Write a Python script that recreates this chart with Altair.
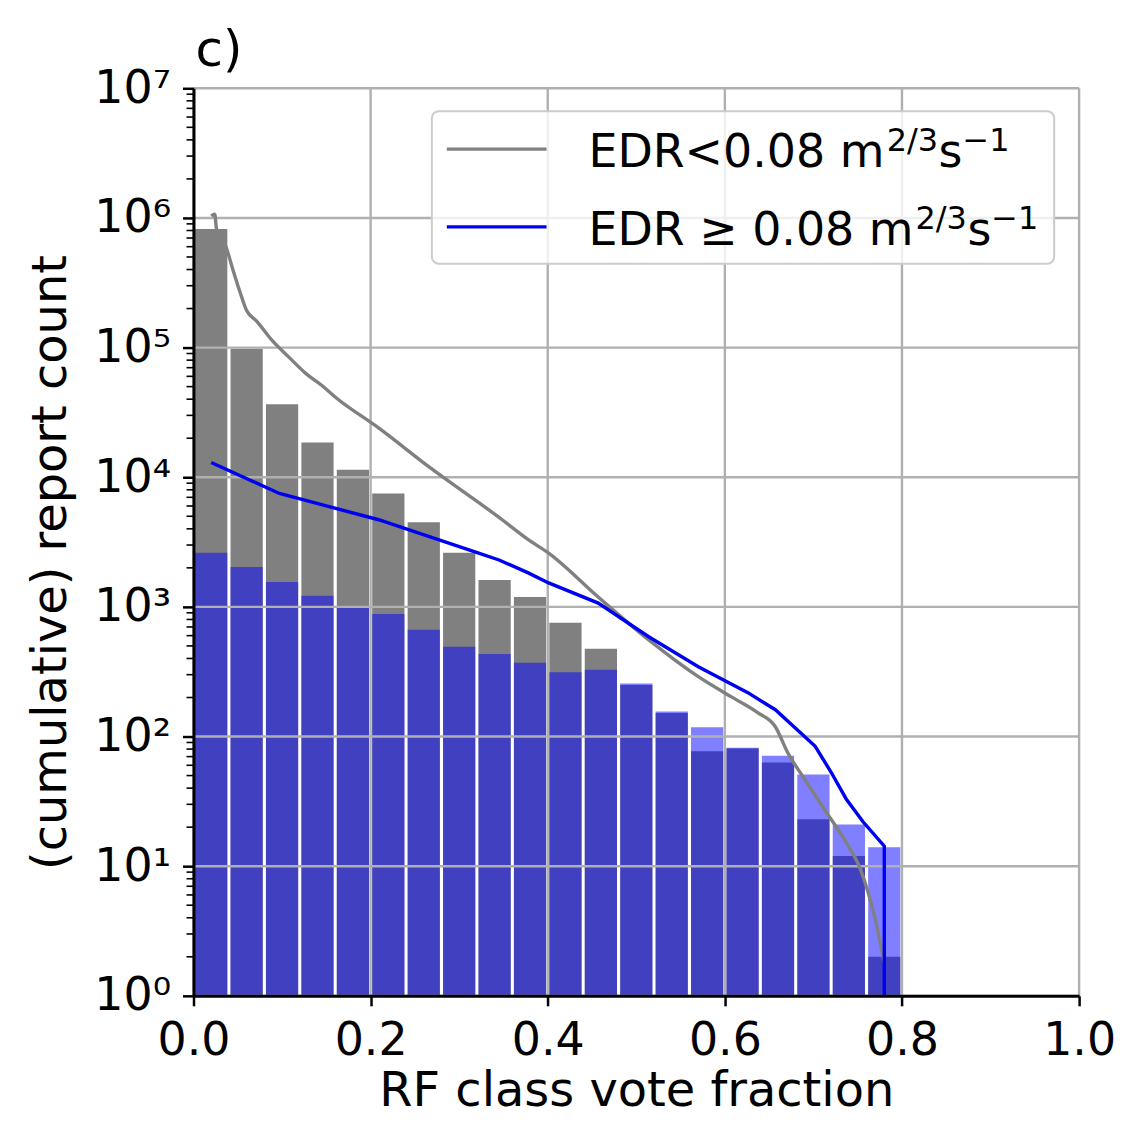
import altair as alt
import pandas as pd

# ---------------- data ----------------
bin_left = [0.00, 0.04, 0.08, 0.12, 0.16, 0.20, 0.24, 0.28, 0.32, 0.36,
            0.40, 0.44, 0.48, 0.52, 0.56, 0.60, 0.64, 0.68, 0.72, 0.76]
bin_right = [0.04, 0.08, 0.12, 0.16, 0.20, 0.24, 0.28, 0.32, 0.36, 0.40,
             0.44, 0.48, 0.52, 0.56, 0.60, 0.64, 0.68, 0.72, 0.76, 0.80]
gray_counts = [820000, 98000, 36500, 18500, 11400, 7500, 4500, 2620, 1610, 1190,
               755, 475, 250, 152, 77, 81, 63, 23, 12, 2]
blue_counts = [2620, 2030, 1555, 1220, 1000, 880, 665, 493, 433, 370,
               313, 327, 256, 156, 118, 82, 71, 51, 21, 14]

gray_line_x = [0.020, 0.024, 0.026, 0.037, 0.044, 0.052, 0.060, 0.071, 0.089, 0.108,
               0.127, 0.145, 0.161, 0.209, 0.266, 0.345, 0.378, 0.401, 0.457, 0.514,
               0.570, 0.607, 0.637, 0.657, 0.671, 0.690, 0.713, 0.735, 0.753, 0.769, 0.780]
gray_line_y = [1.035e6, 1.07e6, 8.2e5, 5.9e5, 4.1e5, 2.75e5, 1.93e5, 1.61e5, 1.13e5, 8.4e4,
               6.3e4, 5.1e4, 4.1e4, 2.4e4, 1.2e4, 4.9e3, 3.3e3, 2.6e3, 1190, 557,
               290, 203, 153, 119, 75, 47, 27, 16, 9.5, 4.1, 1.8]
blue_line_x = [0.020, 0.097, 0.209, 0.322, 0.345, 0.378, 0.401, 0.457, 0.514, 0.570,
               0.626, 0.657, 0.702, 0.720, 0.737, 0.756, 0.780, 0.780]
blue_line_y = [1.30e4, 7.5e3, 4.7e3, 2.6e3, 2.3e3, 1.83e3, 1.53e3, 1.07e3, 588, 345,
               218, 161, 84, 53, 33, 22, 14.3, 0.5]

x_ticks = [0.0, 0.2, 0.4, 0.6, 0.8, 1.0]
y_ticks = [1, 10, 100, 1000, 10000, 100000, 1000000, 10000000]
y_minor = [m * 10 ** k for k in range(7) for m in range(2, 10)]

x_title = "RF class vote fraction"
y_title = "(cumulative) report count"
legend_lo = ["EDR<0.08 m", "2/3", "s", "\u22121"]
legend_hi = ["EDR \u2265 0.08 m", "2/3", "s", "\u22121"]
panel_label = "c)"

# ---------------- layout ----------------
W, H = 888, 910
FONT = "DejaVu Sans"
FS = 46
TFS = 48
SUP = 32

bars = pd.DataFrame({"left": bin_left, "right": bin_right,
                     "gray": gray_counts, "blue": blue_counts})
gline = pd.DataFrame({"x": gray_line_x, "y": gray_line_y, "i": range(len(gray_line_x))})
bline = pd.DataFrame({"x": blue_line_x, "y": blue_line_y, "i": range(len(blue_line_x))})
one = pd.DataFrame({"k": [0]})

xscale = alt.Scale(domain=[0, 1], nice=False, zero=False)
yscale = alt.Scale(type="log", domain=[1, 1e7], nice=False)

sup = "['\u2070','\u00b9','\u00b2','\u00b3','\u2074','\u2075','\u2076','\u2077']"
xaxis = alt.Axis(values=x_ticks, format=".1f", grid=False, domainColor="black",
                 domainWidth=3, tickColor="black", tickWidth=2.5, tickSize=10,
                 labelFontSize=FS, labelFont=FONT, labelColor="black", labelPadding=13,
                 labelFlush=False, labelOverlap=False,
                 titleFontSize=TFS, titleFont=FONT, titleFontWeight="normal",
                 titleColor="black", titleX=W / 2, titleY=110,
                 titleBaseline="alphabetic", titleAlign="center", zindex=1)
yaxis = alt.Axis(values=y_ticks, labelExpr="'10' + " + sup + "[round(log(datum.value)/LN10)]",
                 grid=False, domainColor="black", domainWidth=3, tickColor="black",
                 tickWidth=2.5, tickSize=11, labelFontSize=FS, labelFont=FONT,
                 labelColor="black", labelPadding=12, labelFlush=False, labelOverlap=False,
                 titleFontSize=TFS, titleFont=FONT, titleFontWeight="normal",
                 titleColor="black", titleX=-128, titleY=H / 2 + 20, titleAngle=270,
                 titleBaseline="alphabetic", titleAlign="center", zindex=1)


def X(field):
    return alt.X(field, type="quantitative", scale=xscale, axis=xaxis, title=x_title)


def Y(field):
    return alt.Y(field, type="quantitative", scale=yscale, axis=yaxis, title=y_title)


gray_bars = alt.Chart(bars).mark_bar(color="#808080", xOffset=1.6, x2Offset=-1.6).encode(
    x=X("left"), x2="right", y=Y("gray"), y2=alt.datum(1))
blue_bars = alt.Chart(bars).mark_bar(color="#0000ff", opacity=0.5, xOffset=1.6, x2Offset=-1.6).encode(
    x=X("left"), x2="right", y=Y("blue"), y2=alt.datum(1))

xgrid = alt.Chart(pd.DataFrame({"v": x_ticks})).mark_rule(color="#b0b0b0", strokeWidth=2.4).encode(
    x=X("v"), y=alt.value(0), y2=alt.value(H))
ygrid = alt.Chart(pd.DataFrame({"v": y_ticks})).mark_rule(color="#b0b0b0", strokeWidth=2.4).encode(
    y=Y("v"), x=alt.value(0), x2=alt.value(W))
minor = alt.Chart(pd.DataFrame({"v": y_minor})).mark_rule(color="black", strokeWidth=1.6).encode(
    y=Y("v"), x=alt.value(-7), x2=alt.value(0))

gray_ln = alt.Chart(gline).mark_line(color="#808080", strokeWidth=3.4, clip=True,
                                     interpolate="monotone").encode(
    x=X("x"), y=Y("y"), order="i:Q")
blue_ln = alt.Chart(bline).mark_line(color="#0000f0", strokeWidth=3.4, clip=True).encode(
    x=X("x"), y=Y("y"), order="i:Q")

# legend
leg_box = alt.Chart(one).mark_rect(fill="white", fillOpacity=0.8, stroke="#cccccc",
                                   strokeWidth=2, cornerRadius=7).encode(
    x=alt.value(239), x2=alt.value(863), y=alt.value(23), y2=alt.value(176))
leg_l1 = alt.Chart(one).mark_rule(color="#808080", strokeWidth=3.4).encode(
    x=alt.value(254), x2=alt.value(354), y=alt.value(61))
leg_l2 = alt.Chart(one).mark_rule(color="#0000f0", strokeWidth=3.4).encode(
    x=alt.value(254), x2=alt.value(354), y=alt.value(139))


def txt(s, x, y, size):
    return alt.Chart(one).mark_text(text=s, align="left", baseline="alphabetic",
                                    font=FONT, fontSize=size, color="black").encode(
        x=alt.value(x), y=alt.value(y))


texts = [
    txt(legend_lo[0], 396, 79, FS), txt(legend_lo[1], 695, 63, SUP),
    txt(legend_lo[2], 747, 79, FS), txt(legend_lo[3], 771, 63, SUP),
    txt(legend_hi[0], 396, 157, FS), txt(legend_hi[1], 724, 141, SUP),
    txt(legend_hi[2], 776, 157, FS), txt(legend_hi[3], 800, 141, SUP),
    txt(panel_label, 2, -22, 50),
]

chart = alt.layer(gray_bars, blue_bars, xgrid, ygrid, minor, gray_ln, blue_ln,
                  leg_box, leg_l1, leg_l2, *texts).properties(
    width=W, height=H,
    autosize=alt.AutoSizeParams(type="none"),
    padding={"left": 186, "top": 79, "right": 40, "bottom": 122},
).configure(font=FONT).configure_view(strokeWidth=0)

chart.save("out.html", embed_options={"renderer": "svg", "actions": False})
